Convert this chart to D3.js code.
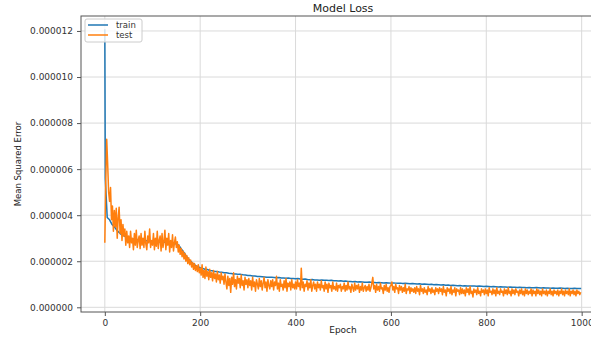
<!DOCTYPE html>
<html>
<head>
<meta charset="utf-8">
<script src="https://cdn.jsdelivr.net/npm/d3@7"></script>
<style>
  body { margin: 0; background: #fff; }
  svg { font-family: "DejaVu Sans", sans-serif; }
</style>
</head>
<body>
<svg id="chart" width="591" height="339"></svg>
<script>
// train is sampled every 5 epochs (plus epoch 1 and the last one), test every 2
const trainEpochs = [0, 1].concat(d3.range(5, 1000, 5), [999]);
const testEpochs = d3.range(0, 1000, 2);

// loss values, in units of 1e-6
const trainLoss = [
  12.07, 5.6,
  3.9, 3.8, 3.6, 3.5, 3.35, 3.25, 3.15, 3.1, 3.05,
  3.0, 2.98, 2.97, 2.95, 2.93, 2.92, 2.9, 2.9, 2.88, 2.87,
  2.86, 2.85, 2.85, 2.84, 2.83, 2.82, 2.82, 2.8, 2.8, 2.78,
  2.75, 2.7, 2.55, 2.4, 2.25, 2.1, 2.0, 1.9, 1.82, 1.76,
  1.72, 1.69, 1.65, 1.64, 1.6, 1.59, 1.56, 1.56, 1.53, 1.52,
  1.5, 1.5, 1.48, 1.47, 1.45, 1.45, 1.43, 1.43, 1.41, 1.4,
  1.38, 1.38, 1.36, 1.36, 1.34, 1.34, 1.33, 1.32, 1.31, 1.31,
  1.3, 1.29, 1.28, 1.29, 1.27, 1.27, 1.26, 1.27, 1.25, 1.25,
  1.24, 1.25, 1.23, 1.22, 1.23, 1.21, 1.2, 1.21, 1.19, 1.19,
  1.18, 1.19, 1.17, 1.17, 1.16, 1.17, 1.15, 1.15, 1.14, 1.15,
  1.13, 1.14, 1.12, 1.12, 1.11, 1.12, 1.1, 1.11, 1.1, 1.09,
  1.09, 1.1, 1.08, 1.08, 1.07, 1.08, 1.07, 1.06, 1.07, 1.06,
  1.05, 1.06, 1.05, 1.04, 1.05, 1.03, 1.04, 1.03, 1.02, 1.03,
  1.02, 1.01, 1.02, 1.0, 1.01, 1.0, 0.99, 1.0, 0.98, 0.99,
  0.98, 0.97, 0.98, 0.96, 0.97, 0.95, 0.96, 0.95, 0.94, 0.95,
  0.93, 0.94, 0.93, 0.92, 0.93, 0.92, 0.91, 0.92, 0.91, 0.9,
  0.91, 0.9, 0.89, 0.9, 0.89, 0.88, 0.89, 0.88, 0.88, 0.87,
  0.88, 0.87, 0.87, 0.86, 0.87, 0.86, 0.86, 0.85, 0.86, 0.85,
  0.85, 0.86, 0.85, 0.84, 0.85, 0.84, 0.84, 0.83, 0.84, 0.83,
  0.83, 0.84, 0.83, 0.82, 0.83, 0.82, 0.82, 0.83, 0.82, 0.82,
  0.82
];

const testLoss = [
  // 0-48
  2.8, 5.5, 7.3, 6.2, 5.0, 4.6, 5.2, 3.8, 4.4, 3.3, 4.2, 3.5, 4.3, 3.0, 3.9, 4.35, 3.2, 3.8, 2.9, 3.6, 3.1, 3.4, 2.7, 3.3, 2.8,
  // 50-98
  3.1, 2.6, 3.3, 2.8, 3.0, 2.5, 3.2, 2.7, 3.35, 2.6, 2.9, 3.1, 2.55, 3.2, 2.7, 3.0, 2.6, 3.3, 2.75, 2.5, 3.1, 2.8, 3.4, 2.6, 2.9,
  // 100-148
  2.7, 3.2, 2.5, 3.0, 2.65, 3.3, 2.55, 2.9, 3.1, 2.45, 3.2, 2.6, 2.85, 3.35, 2.5, 3.0, 2.7, 3.2, 2.4, 2.9, 2.6, 3.15, 2.45, 2.8, 3.05,
  // 150-198
  2.6, 2.85, 2.4, 2.7, 2.3, 2.55, 2.2, 2.45, 2.1, 2.35, 2.0, 2.25, 1.9, 2.15, 1.85, 2.05, 1.75, 1.95, 1.65, 1.9, 1.6, 1.8, 1.55, 1.85, 1.5,
  // 200-248
  1.7, 1.4, 1.85, 1.3, 1.6, 1.25, 1.75, 1.35, 1.55, 1.2, 1.65, 1.3, 1.5, 1.15, 1.6, 1.25, 1.45, 1.1, 1.55, 1.2, 1.4, 1.05, 1.5, 1.2, 1.35,
  // 250-298
  1.0, 1.45, 1.1, 0.8, 1.35, 0.95, 1.25, 0.65, 1.3, 1.0, 1.5, 0.9, 1.2, 0.8, 1.35, 1.05, 1.25, 0.85, 1.4, 0.95, 1.15, 0.75, 1.3, 1.0, 1.2,
  // 300-348
  0.85, 1.25, 0.95, 1.15, 0.75, 1.3, 0.9, 1.1, 0.7, 1.2, 1.0, 0.8, 1.25, 0.9, 1.15, 0.75, 1.05, 1.3, 0.85, 1.1, 0.7, 1.2, 0.95, 0.8, 1.15,
  // 350-398
  0.9, 1.2, 0.75, 1.1, 0.95, 1.35, 0.8, 1.05, 0.7, 1.2, 0.9, 1.0, 0.75, 1.15, 0.85, 1.25, 0.7, 1.05, 0.9, 1.1, 0.75, 1.2, 0.85, 1.0, 0.8,
  // 400-448
  1.1, 0.8, 1.2, 0.9, 1.05, 0.75, 1.7, 0.85, 1.1, 0.7, 1.0, 0.9, 1.15, 0.75, 1.05, 0.85, 1.2, 0.7, 0.95, 1.1, 0.8, 1.0, 0.7, 1.1, 0.85,
  // 450-498
  1.0, 0.75, 1.15, 0.85, 0.95, 0.7, 1.1, 0.8, 1.0, 0.65, 1.05, 0.85, 0.95, 0.7, 1.1, 0.8, 0.9, 0.75, 1.05, 0.7, 0.95, 0.85, 1.0, 0.7, 0.9,
  // 500-548
  0.8, 1.05, 0.7, 0.95, 0.75, 1.1, 0.8, 0.9, 0.65, 1.0, 0.85, 0.7, 1.05, 0.75, 0.95, 0.8, 1.0, 0.65, 0.9, 0.75, 1.05, 0.7, 0.85, 0.95, 0.7,
  // 550-598
  0.9, 0.75, 1.0, 0.7, 0.85, 1.05, 1.3, 0.8, 0.95, 0.65, 1.0, 0.75, 0.9, 0.7, 1.05, 0.8, 0.85, 0.6, 0.95, 0.75, 1.0, 0.7, 0.85, 0.65, 0.9,
  // 600-648
  0.95, 1.1, 0.75, 0.9, 0.65, 1.0, 0.8, 0.85, 0.6, 0.95, 0.75, 0.9, 0.65, 0.85, 0.7, 1.0, 0.6, 0.8, 0.75, 0.9, 0.6, 0.85, 0.7, 0.8, 0.65,
  // 650-698
  0.85, 0.6, 0.9, 0.7, 0.8, 0.55, 0.95, 0.7, 0.8, 0.6, 0.85, 0.65, 0.75, 0.55, 0.9, 0.7, 0.8, 0.6, 0.85, 0.65, 0.75, 0.55, 0.85, 0.7, 0.8,
  // 700-748
  0.6, 0.85, 0.7, 0.8, 0.55, 0.9, 0.65, 0.75, 0.5, 0.85, 0.7, 0.8, 0.6, 0.9, 0.55, 0.75, 0.65, 0.85, 0.5, 0.8, 0.7, 0.75, 0.55, 0.85, 0.6,
  // 750-798
  0.8, 0.6, 0.75, 0.5, 0.85, 0.65, 0.8, 0.55, 0.9, 0.6, 0.7, 0.45, 0.8, 0.65, 0.75, 0.55, 0.85, 0.6, 0.7, 0.5, 0.8, 0.65, 0.75, 0.55, 0.8,
  // 800-848
  0.6, 0.75, 0.5, 0.85, 0.65, 0.7, 0.55, 0.8, 0.6, 0.75, 0.5, 0.85, 0.6, 0.7, 0.55, 0.8, 0.65, 0.7, 0.5, 0.8, 0.6, 0.75, 0.55, 0.85, 0.6,
  // 850-898
  0.7, 0.5, 0.8, 0.6, 0.75, 0.55, 0.8, 0.65, 0.7, 0.5, 0.75, 0.6, 0.8, 0.55, 0.7, 0.5, 0.8, 0.6, 0.75, 0.55, 0.7, 0.6, 0.8, 0.5, 0.75,
  // 900-948
  0.6, 0.7, 0.5, 0.8, 0.6, 0.75, 0.55, 0.7, 0.5, 0.8, 0.6, 0.7, 0.55, 0.75, 0.5, 0.7, 0.6, 0.8, 0.55, 0.7, 0.5, 0.75, 0.6, 0.7, 0.55,
  // 950-998
  0.75, 0.5, 0.7, 0.6, 0.8, 0.55, 0.7, 0.5, 0.75, 0.6, 0.7, 0.55, 0.8, 0.5, 0.7, 0.6, 0.75, 0.55, 0.7, 0.5, 0.75, 0.6, 0.7, 0.55, 0.65
];

const xTicks = [0, 200, 400, 600, 800, 1000];
const yTicks = [0, 2, 4, 6, 8, 10, 12];
const seriesNames = ["train", "test"];
const seriesColors = ["#1f77b4", "#ff7f0e"];

const UNIT = 1e-6;

const svg = d3.select("#chart");
const plot = { left: 81, right: 605, top: 16, bottom: 312 };

const x = d3.scaleLinear().domain([-49.95, 1048.95]).range([plot.left, plot.right]);
const y = d3.scaleLinear().domain([-0.204 * UNIT, 12.65 * UNIT]).range([plot.bottom, plot.top]);

// grid
const grid = svg.append("g");
grid.selectAll(".gx").data(xTicks).enter().append("line")
  .attr("x1", d => x(d)).attr("x2", d => x(d))
  .attr("y1", plot.top).attr("y2", plot.bottom)
  .attr("stroke", "#dadada").attr("stroke-width", 1);
grid.selectAll(".gy").data(yTicks).enter().append("line")
  .attr("x1", plot.left).attr("x2", plot.right)
  .attr("y1", d => y(d * UNIT)).attr("y2", d => y(d * UNIT))
  .attr("stroke", "#dadada").attr("stroke-width", 1);

// lines
function toPoints(eps, vals) {
  const n = Math.min(eps.length, vals.length);
  return d3.range(n).map(i => ({ epoch: eps[i], loss: vals[i] * UNIT }));
}
const data = [toPoints(trainEpochs, trainLoss), toPoints(testEpochs, testLoss)];

const line = d3.line().x(d => x(d.epoch)).y(d => y(d.loss));

svg.append("g").selectAll("path").data(data).enter().append("path")
  .attr("d", line)
  .attr("fill", "none")
  .attr("stroke", (d, i) => seriesColors[i])
  .attr("stroke-width", 1.5)
  .attr("stroke-linejoin", "round");

// axes
const xAxis = svg.append("g")
  .attr("transform", "translate(0," + plot.bottom + ")")
  .call(d3.axisBottom(x).tickValues(xTicks).tickSize(4).tickPadding(4).tickFormat(d3.format("d")));
const yAxis = svg.append("g")
  .attr("transform", "translate(" + plot.left + ",0)")
  .call(d3.axisLeft(y).tickValues(yTicks.map(v => v * UNIT)).tickSize(4).tickPadding(4).tickFormat(d3.format(".6f")));

[xAxis, yAxis].forEach(a => {
  a.select(".domain").remove();
  a.selectAll("line").attr("stroke", "#555");
  a.selectAll("text").attr("fill", "#333").style("font-size", "9px").style("font-family", "DejaVu Sans");
});

// frame
svg.append("rect")
  .attr("x", plot.left).attr("y", plot.top)
  .attr("width", plot.right - plot.left).attr("height", plot.bottom - plot.top)
  .attr("fill", "none").attr("stroke", "#555").attr("stroke-width", 1);

// labels
svg.append("text").attr("x", 343).attr("y", 12).attr("text-anchor", "middle")
  .style("font-size", "11px").attr("fill", "#222").text("Model Loss");
svg.append("text").attr("x", 343).attr("y", 333).attr("text-anchor", "middle")
  .style("font-size", "9px").attr("fill", "#222").text("Epoch");
svg.append("text").attr("transform", "translate(21," + ((plot.top + plot.bottom) / 2) + ") rotate(-90)")
  .attr("text-anchor", "middle").style("font-size", "8.5px").attr("fill", "#222").text("Mean Squared Error");

// legend
const legend = svg.append("g").attr("transform", "translate(85,19)");
legend.append("rect").attr("width", 57).attr("height", 23).attr("rx", 2)
  .attr("fill", "#fff").attr("fill-opacity", 0.8).attr("stroke", "#ccc");
seriesNames.forEach((name, i) => {
  legend.append("line").attr("x1", 3).attr("x2", 23)
    .attr("y1", 6 + i * 10).attr("y2", 6 + i * 10)
    .attr("stroke", seriesColors[i]).attr("stroke-width", 1.5);
  legend.append("text").attr("x", 31).attr("y", 9 + i * 10)
    .style("font-size", "8.5px").attr("fill", "#333").text(name);
});
</script>
</body>
</html>
